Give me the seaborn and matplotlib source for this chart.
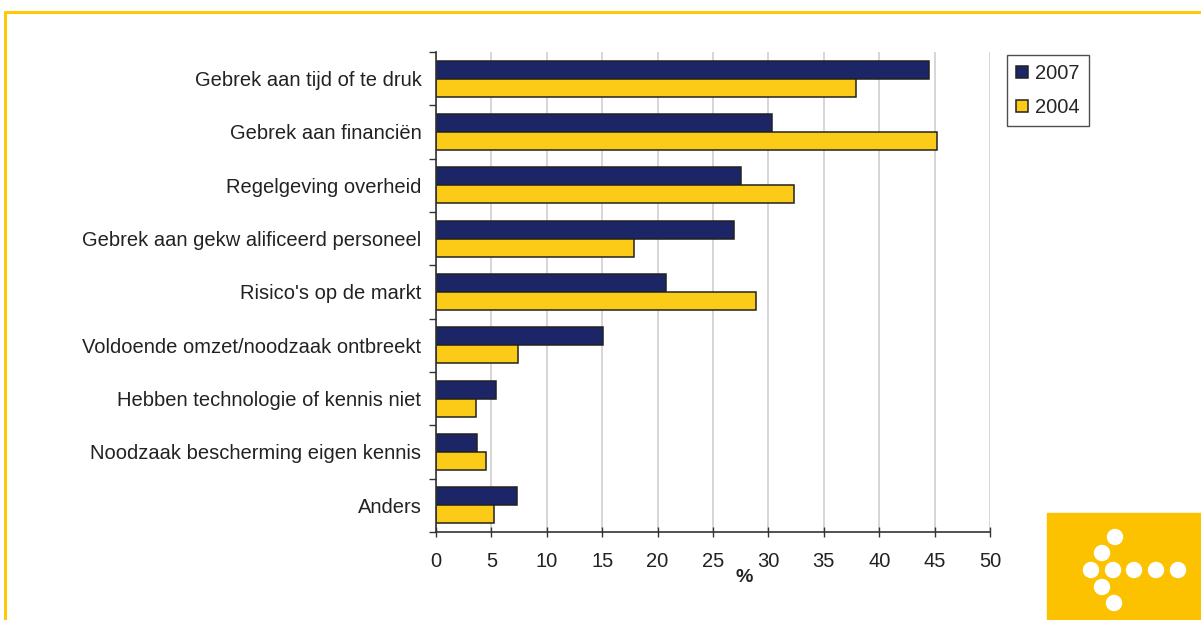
import seaborn as sns
import matplotlib.pyplot as plt
import matplotlib.patches as mpatches
import pandas as pd

categories = [
    'Gebrek aan tijd of te druk',
    'Gebrek aan financiën',
    'Regelgeving overheid',
    'Gebrek aan gekw alificeerd personeel',
    "Risico's op de markt",
    'Voldoende omzet/noodzaak ontbreekt',
    'Hebben technologie of kennis niet',
    'Noodzaak bescherming eigen kennis',
    'Anders',
]
values_2007 = [44.5, 30.3, 27.5, 26.9, 20.8, 15.1, 5.4, 3.7, 7.3]
values_2004 = [37.9, 45.2, 32.3, 17.9, 28.9, 7.4, 3.6, 4.5, 5.2]
years = ['2007', '2004']
x_ticks = [0, 5, 10, 15, 20, 25, 30, 35, 40, 45, 50]

navy = '#1c2566'
yellow = '#fccb17'
frame_yellow = '#ffc907'
text_col = '#222222'

df = pd.DataFrame({
    'category': categories * 2,
    'value': values_2007 + values_2004,
    'year': [years[0]] * len(categories) + [years[1]] * len(categories),
})

sns.set_style('white')
plt.rcParams['font.family'] = ['Liberation Sans', 'DejaVu Sans']

W, H = 1201, 620
fig = plt.figure(figsize=(W / 100, H / 100), dpi=100)
ax = fig.add_axes([436 / W, 1 - 532 / H, (990 - 436) / W, (532 - 52) / H])

sns.barplot(data=df, y='category', x='value', hue='year', orient='h',
            palette={'2007': navy, '2004': yellow}, saturation=1, width=0.68,
            edgecolor='#222222', linewidth=1.1, ax=ax, legend=True)

ax.set_xlim(0, 50)
ax.set_ylim(len(categories) - 0.5, -0.5)
ax.set_xticks(x_ticks)
ax.set_xticklabels([str(t) for t in x_ticks], fontsize=14.5, color=text_col)
ax.tick_params(axis='x', bottom=True, direction='inout', length=7, width=1,
               color='#333333', pad=11)
ax.tick_params(axis='y', left=False, pad=7, labelsize=14.5, labelcolor=text_col)
ax.set_yticks([i + 0.5 for i in range(-1, len(categories))], minor=True)
ax.tick_params(axis='y', which='minor', left=True, length=5, width=1, color='#333333')
ax.set_xlabel('%', fontsize=14, fontweight='bold', color=text_col)
ax.xaxis.set_label_coords(0.557, -0.094)
ax.xaxis.label.set_verticalalignment('center')
ax.set_ylabel('')

ax.grid(axis='x', color='#d0d0d0', linewidth=1.2)
ax.set_axisbelow(True)
for s in ['top', 'right']:
    ax.spines[s].set_visible(False)
for s in ['left', 'bottom']:
    ax.spines[s].set_color('#333333')
    ax.spines[s].set_linewidth(1.2)

handles, labels = ax.get_legend_handles_labels()
ax.legend(handles, labels, loc='upper left',
          bbox_to_anchor=(1007 / W, 1 - 55 / H), bbox_transform=fig.transFigure,
          frameon=True, fancybox=False, edgecolor='#222222', fontsize=14.5,
          handlelength=0.6, handleheight=0.6, handletextpad=0.35,
          borderpad=0.45, labelspacing=0.75, borderaxespad=0)

# yellow frame and logo
ft = fig.transFigure
fig.add_artist(plt.Line2D([5 / W, 1], [1 - 12 / H, 1 - 12 / H], color=frame_yellow, lw=2.2, transform=ft))
fig.add_artist(plt.Line2D([5 / W, 5 / W], [0, 1 - 12 / H], color=frame_yellow, lw=2.2, transform=ft))
fig.add_artist(mpatches.Rectangle((1047 / W, 0), (W - 1047) / W, (H - 513) / H,
                                  color='#fcc200', transform=ft))
dots = [(1115, 537), (1102, 553), (1091, 570), (1113, 570), (1134, 570),
        (1156, 570), (1178, 570), (1102, 587), (1114, 603)]
for px, py in dots:
    fig.add_artist(mpatches.Ellipse((px / W, 1 - py / H), 15 / W, 15 / H,
                                    color='white', transform=ft))

fig.savefig('out.png', dpi=100)
